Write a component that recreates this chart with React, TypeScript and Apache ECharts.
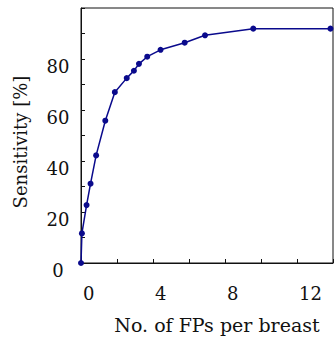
import React, { useEffect, useRef } from "react";
import * as echarts from "echarts";

const fpPerBreast = [0, 0.05, 0.31, 0.53, 0.84, 1.35, 1.88, 2.54, 2.94, 3.22, 3.68, 4.42, 5.76, 6.89, 9.57, 13.86];
const sensitivity = [0, 11.6, 22.7, 31.1, 42.2, 55.8, 67.0, 72.5, 75.4, 78.1, 80.9, 83.6, 86.4, 89.3, 91.9, 91.9];
const xTickLabels = [0, 4, 8, 12];
const yTickLabels = [0, 20, 40, 60, 80];
const xTitle = "No. of FPs per breast";
const yTitle = "Sensitivity [%]";

const FONT = "DejaVu Serif";
const LINE = "#0a0a8c";

export default function App() {
  const ref = useRef<HTMLDivElement>(null);
  useEffect(() => {
    if (!ref.current) return;
    const chart = echarts.init(ref.current, null, { renderer: "svg" });
    const data = fpPerBreast.map((x, i) => [x, sensitivity[i]]);
    chart.setOption({
      animation: false,
      backgroundColor: "#ffffff",
      grid: {
        left: 81,
        top: 8,
        right: -1,
        bottom: 77,
        show: true,
        borderColor: "#111",
        borderWidth: 1,
        backgroundColor: "transparent",
      },
      xAxis: {
        type: "value",
        min: 0,
        max: 14,
        interval: 2,
        axisLine: { show: true, lineStyle: { color: "#111", width: 1 } },
        axisTick: { show: true, inside: true, length: 4, lineStyle: { color: "#111" } },
        splitLine: { show: false },
        axisLabel: {
          fontFamily: FONT,
          fontSize: 18,
          color: "#111",
          align: "left",
          verticalAlign: "middle",
          margin: 30,
          padding: [0, 0, 0, 2],
          formatter: (v: number) => (xTickLabels.includes(v) ? String(v) : ""),
        },
      },
      yAxis: {
        type: "value",
        min: 0,
        max: 100,
        interval: 10,
        axisLine: { show: true, lineStyle: { color: "#111", width: 1 } },
        axisTick: { show: true, inside: true, length: 4, lineStyle: { color: "#111" } },
        splitLine: { show: false },
        axisLabel: {
          fontFamily: FONT,
          fontSize: 18,
          color: "#111",
          align: "center",
          verticalAlign: "top",
          lineHeight: 15,
          margin: 23,
          formatter: (v: number) => (yTickLabels.includes(v) ? String(v) : ""),
        },
      },
      graphic: [
        {
          type: "text",
          x: 217,
          y: 325,
          style: {
            text: xTitle,
            fontFamily: FONT,
            fontSize: 19,
            fill: "#111",
            textAlign: "center",
            textVerticalAlign: "middle",
          },
        },
        {
          type: "text",
          x: 20,
          y: 142,
          rotation: Math.PI / 2,
          style: {
            text: yTitle,
            fontFamily: FONT,
            fontSize: 18,
            fill: "#111",
            textAlign: "center",
            textVerticalAlign: "middle",
          },
        },
      ],
      series: [
        {
          type: "line",
          data,
          symbol: "circle",
          symbolSize: 6,
          showSymbol: true,
          clip: false,
          lineStyle: { color: LINE, width: 1.5 },
          itemStyle: { color: LINE },
        },
      ],
    });
    return () => chart.dispose();
  }, []);
  return (
    <div
      ref={ref}
      style={{ position: "fixed", left: 0, top: 0, width: 336, height: 340, background: "#fff" }}
    />
  );
}
